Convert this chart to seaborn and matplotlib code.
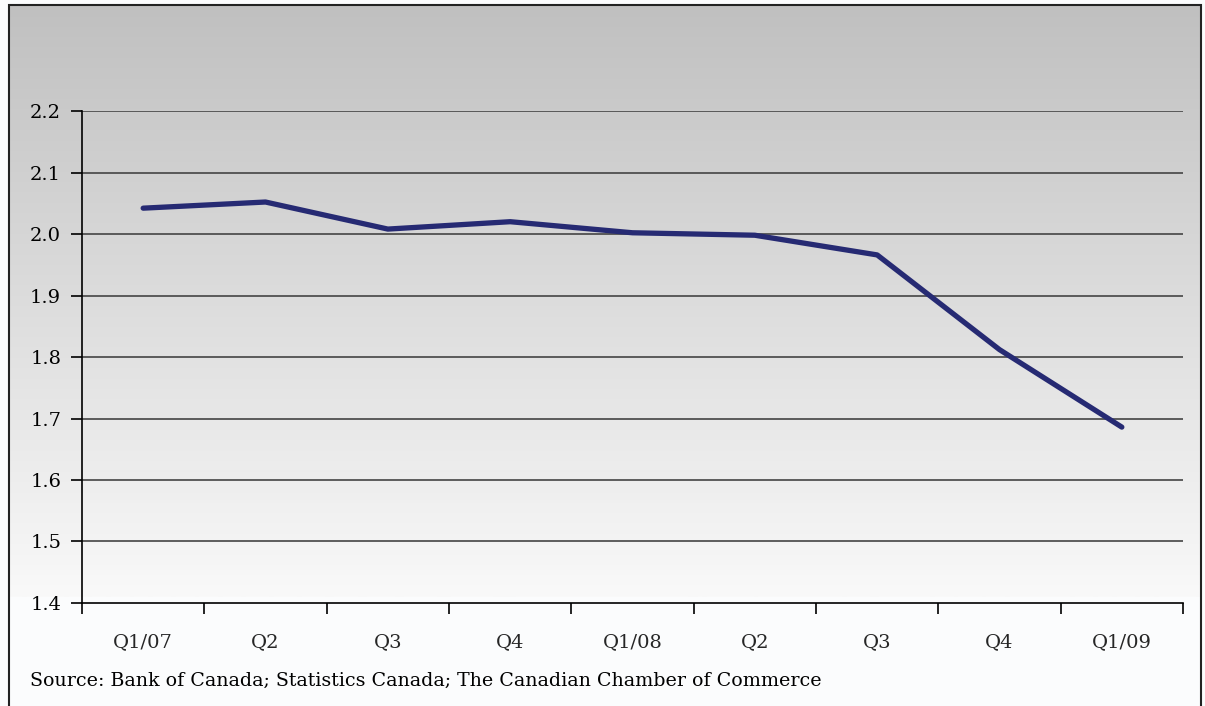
import numpy as np
import pandas as pd
import seaborn as sns
import matplotlib.pyplot as plt
from matplotlib.colors import LinearSegmentedColormap
from matplotlib.patches import Rectangle

quarters = ["Q1/07", "Q2", "Q3", "Q4", "Q1/08", "Q2", "Q3", "Q4", "Q1/09"]
values = [2.042, 2.052, 2.008, 2.020, 2.002, 1.998, 1.966, 1.812, 1.686]
yticks = [1.4, 1.5, 1.6, 1.7, 1.8, 1.9, 2.0, 2.1, 2.2]
source = "Source: Bank of Canada; Statistics Canada; The Canadian Chamber of Commerce"

sns.set_theme(style="white")
plt.rcParams['font.family'] = ['DejaVu Serif']

df = pd.DataFrame({"pos": np.arange(len(values)), "value": values})

fig = plt.figure(figsize=(12.05, 7.06), dpi=100)
fig.patch.set_facecolor("#fbfcfd")

# gradient background behind the chart
bg = fig.add_axes([9 / 1205, 1 - 597 / 706, 1192 / 1205, 592 / 706], zorder=0)
grad = np.linspace(0, 1, 256).reshape(-1, 1)
bg.imshow(grad, aspect="auto", extent=[0, 1, 1, 0],
          cmap=LinearSegmentedColormap.from_list("g", ["#c0c0c0", "#f9f9f9"]))
bg.set_axis_off()

# frame around the whole figure
fig.patches.append(Rectangle((9 / 1205, -0.01), 1192 / 1205, 1.01 - 5 / 706,
                             transform=fig.transFigure, fill=False,
                             edgecolor="#222222", linewidth=1.5, zorder=5))

ax = fig.add_axes([82 / 1205, 1 - 603 / 706, 1101 / 1205, 492 / 706], zorder=1)
ax.patch.set_alpha(0)

sns.lineplot(data=df, x="pos", y="value", ax=ax, color="#262a73", linewidth=3.8,
             zorder=3)

ax.set_xlim(-0.5, len(values) - 0.5)
ax.set_ylim(1.4, 2.2)
ax.set_yticks(yticks)
ax.set_yticklabels([f"{y:.1f}" for y in yticks], fontsize=14)
for y in yticks[1:]:
    ax.axhline(y, color="#444444", linewidth=1.2, zorder=1)

ax.set_xticks(np.arange(-0.5, len(values), 1.0))
ax.set_xticklabels([])
ax.set_xticks(np.arange(len(values)), minor=True)
ax.set_xticklabels(quarters, minor=True, fontsize=14)
ax.tick_params(axis="x", which="major", bottom=True, direction="out", length=8,
               width=1.2, color="black")
ax.tick_params(axis="x", which="minor", bottom=True, length=0, pad=22)
ax.tick_params(axis="y", left=True, direction="out", length=8, width=1.2,
               color="black", pad=7)
ax.tick_params(labelcolor="black")

for s in ["top", "right"]:
    ax.spines[s].set_visible(False)
for s in ["left", "bottom"]:
    ax.spines[s].set_color("black")
    ax.spines[s].set_linewidth(1.2)

ax.set_xlabel("")
ax.set_ylabel("")

fig.text(30 / 1205, 1 - 681 / 706, source, fontsize=13.7, ha="left", va="center",
         color="black")

fig.savefig("out.png", dpi=100, facecolor=fig.get_facecolor())
